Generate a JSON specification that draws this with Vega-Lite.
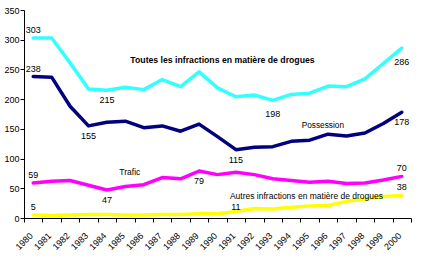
{
  "$schema": "https://vega.github.io/schema/vega-lite/v6.json",
  "width": 387,
  "height": 208,
  "autosize": {"type": "none"},
  "padding": {"left": 24, "top": 10, "right": 16, "bottom": 40},
  "background": "white",
  "config": {
    "view": {"stroke": null},
    "font": "Liberation Sans",
    "text": {"font": "Liberation Sans", "fontSize": 9, "color": "#000000"}
  },
  "datasets": {
    "drogues": [
      {"series": "Toutes", "year": 1980, "value": 303},
      {"series": "Toutes", "year": 1981, "value": 303},
      {"series": "Toutes", "year": 1982, "value": 261},
      {"series": "Toutes", "year": 1983, "value": 217},
      {"series": "Toutes", "year": 1984, "value": 215},
      {"series": "Toutes", "year": 1985, "value": 220},
      {"series": "Toutes", "year": 1986, "value": 216},
      {"series": "Toutes", "year": 1987, "value": 233},
      {"series": "Toutes", "year": 1988, "value": 221},
      {"series": "Toutes", "year": 1989, "value": 246},
      {"series": "Toutes", "year": 1990, "value": 219},
      {"series": "Toutes", "year": 1991, "value": 204},
      {"series": "Toutes", "year": 1992, "value": 207},
      {"series": "Toutes", "year": 1993, "value": 198},
      {"series": "Toutes", "year": 1994, "value": 208},
      {"series": "Toutes", "year": 1995, "value": 210},
      {"series": "Toutes", "year": 1996, "value": 222},
      {"series": "Toutes", "year": 1997, "value": 221},
      {"series": "Toutes", "year": 1998, "value": 234},
      {"series": "Toutes", "year": 1999, "value": 260},
      {"series": "Toutes", "year": 2000, "value": 286},
      {"series": "Possession", "year": 1980, "value": 238},
      {"series": "Possession", "year": 1981, "value": 237},
      {"series": "Possession", "year": 1982, "value": 188},
      {"series": "Possession", "year": 1983, "value": 155},
      {"series": "Possession", "year": 1984, "value": 161},
      {"series": "Possession", "year": 1985, "value": 163},
      {"series": "Possession", "year": 1986, "value": 152},
      {"series": "Possession", "year": 1987, "value": 155},
      {"series": "Possession", "year": 1988, "value": 146},
      {"series": "Possession", "year": 1989, "value": 158},
      {"series": "Possession", "year": 1990, "value": 137},
      {"series": "Possession", "year": 1991, "value": 115},
      {"series": "Possession", "year": 1992, "value": 119},
      {"series": "Possession", "year": 1993, "value": 120},
      {"series": "Possession", "year": 1994, "value": 129},
      {"series": "Possession", "year": 1995, "value": 131},
      {"series": "Possession", "year": 1996, "value": 141},
      {"series": "Possession", "year": 1997, "value": 138},
      {"series": "Possession", "year": 1998, "value": 143},
      {"series": "Possession", "year": 1999, "value": 159},
      {"series": "Possession", "year": 2000, "value": 178},
      {"series": "Trafic", "year": 1980, "value": 59},
      {"series": "Trafic", "year": 1981, "value": 62},
      {"series": "Trafic", "year": 1982, "value": 63},
      {"series": "Trafic", "year": 1983, "value": 55},
      {"series": "Trafic", "year": 1984, "value": 47},
      {"series": "Trafic", "year": 1985, "value": 53},
      {"series": "Trafic", "year": 1986, "value": 56},
      {"series": "Trafic", "year": 1987, "value": 68},
      {"series": "Trafic", "year": 1988, "value": 66},
      {"series": "Trafic", "year": 1989, "value": 79},
      {"series": "Trafic", "year": 1990, "value": 73},
      {"series": "Trafic", "year": 1991, "value": 77},
      {"series": "Trafic", "year": 1992, "value": 73},
      {"series": "Trafic", "year": 1993, "value": 66},
      {"series": "Trafic", "year": 1994, "value": 63},
      {"series": "Trafic", "year": 1995, "value": 60},
      {"series": "Trafic", "year": 1996, "value": 62},
      {"series": "Trafic", "year": 1997, "value": 58},
      {"series": "Trafic", "year": 1998, "value": 59},
      {"series": "Trafic", "year": 1999, "value": 64},
      {"series": "Trafic", "year": 2000, "value": 70},
      {"series": "Autres", "year": 1980, "value": 5},
      {"series": "Autres", "year": 1981, "value": 4},
      {"series": "Autres", "year": 1982, "value": 5},
      {"series": "Autres", "year": 1983, "value": 6},
      {"series": "Autres", "year": 1984, "value": 6},
      {"series": "Autres", "year": 1985, "value": 5},
      {"series": "Autres", "year": 1986, "value": 5},
      {"series": "Autres", "year": 1987, "value": 6},
      {"series": "Autres", "year": 1988, "value": 6},
      {"series": "Autres", "year": 1989, "value": 7},
      {"series": "Autres", "year": 1990, "value": 7},
      {"series": "Autres", "year": 1991, "value": 11},
      {"series": "Autres", "year": 1992, "value": 16},
      {"series": "Autres", "year": 1993, "value": 15},
      {"series": "Autres", "year": 1994, "value": 18},
      {"series": "Autres", "year": 1995, "value": 20},
      {"series": "Autres", "year": 1996, "value": 21},
      {"series": "Autres", "year": 1997, "value": 28},
      {"series": "Autres", "year": 1998, "value": 32},
      {"series": "Autres", "year": 1999, "value": 36},
      {"series": "Autres", "year": 2000, "value": 38}
    ],
    "etiquettes": [
      {"series": "Toutes", "year": 1985, "value": 266, "text": "Toutes les infractions en matière de drogues"},
      {"series": "Possession", "year": 1995, "value": 155, "text": "Possession"},
      {"series": "Trafic", "year": 1985, "value": 77, "text": "Trafic"},
      {"series": "Autres", "year": 1991, "value": 37, "text": "Autres infractions en matière de drogues"}
    ]
  },
  "data": {"name": "drogues"},
  "encoding": {
    "x": {
      "field": "year", "type": "quantitative",
      "scale": {"domain": [1979.5, 2000.5], "nice": false, "zero": false},
      "axis": {
        "title": null, "grid": false,
        "values": [1979.5,1980.5,1981.5,1982.5,1983.5,1984.5,1985.5,1986.5,1987.5,1988.5,1989.5,1990.5,1991.5,1992.5,1993.5,1994.5,1995.5,1996.5,1997.5,1998.5,1999.5,2000.5],
        "labelExpr": "datum.value > 2000 ? '' : format(datum.value + 0.5, 'd')",
        "labelAngle": -45, "labelFontSize": 9, "labelFont": "Liberation Sans", "labelColor": "#000000",
        "labelPadding": 9, "labelOffset": 4, "labelOverlap": false, "labelBound": false, "labelFlush": false,
        "tickSize": 4, "tickColor": "#000000", "domainColor": "#000000", "domainWidth": 1, "tickWidth": 1
      }
    },
    "y": {
      "field": "value", "type": "quantitative",
      "scale": {"domain": [0, 350], "nice": false},
      "axis": {
        "title": null, "grid": false,
        "values": [0, 50, 100, 150, 200, 250, 300, 350],
        "labelFontSize": 9, "labelFont": "Liberation Sans", "labelColor": "#000000",
        "labelPadding": 1, "tickSize": 4, "tickColor": "#000000", "domainColor": "#000000",
        "labelFlush": false, "labelBound": false
      }
    }
  },
  "layer": [
    {
      "mark": {"type": "line", "strokeWidth": 3.5, "strokeJoin": "round", "strokeCap": "round"},
      "encoding": {
        "color": {
          "field": "series", "type": "nominal",
          "scale": {"domain": ["Toutes", "Possession", "Trafic", "Autres"], "range": ["#33ffff", "#000080", "#ff00ff", "#ffff00"]},
          "legend": null
        }
      }
    },
    {
      "transform": [{"filter": "(datum.year == 1980) || (datum.series == 'Trafic' && datum.year == 2000) || (datum.series == 'Autres' && datum.year == 2000)"}],
      "mark": {"type": "text", "baseline": "middle", "align": "center", "dy": -8},
      "encoding": {"text": {"field": "value", "type": "quantitative", "format": "d"}}
    },
    {
      "transform": [{"filter": "datum.series == 'Autres' && datum.year == 1991"}],
      "mark": {"type": "text", "baseline": "middle", "align": "center", "dy": -4},
      "encoding": {"text": {"field": "value", "type": "quantitative", "format": "d"}}
    },
    {
      "transform": [{"filter": "(datum.series == 'Toutes' && datum.year == 1984) || (datum.series == 'Possession' && (datum.year == 1983 || datum.year == 1991 || datum.year == 2000)) || (datum.series == 'Trafic' && (datum.year == 1984 || datum.year == 1989))"}],
      "mark": {"type": "text", "baseline": "middle", "align": "center", "dy": 10},
      "encoding": {"text": {"field": "value", "type": "quantitative", "format": "d"}}
    },
    {
      "transform": [{"filter": "datum.series == 'Toutes' && (datum.year == 1993 || datum.year == 2000)"}],
      "mark": {"type": "text", "baseline": "middle", "align": "center", "dy": 14},
      "encoding": {"text": {"field": "value", "type": "quantitative", "format": "d"}}
    },
    {
      "data": {"name": "etiquettes"},
      "transform": [{"filter": "datum.series == 'Toutes'"}],
      "mark": {"type": "text", "baseline": "middle", "align": "left", "dx": 5, "fontWeight": "bold", "fontSize": 8.7},
      "encoding": {"text": {"field": "text"}}
    },
    {
      "data": {"name": "etiquettes"},
      "transform": [{"filter": "datum.series == 'Possession'"}],
      "mark": {"type": "text", "baseline": "middle", "align": "left", "dx": -8, "fontSize": 8.3},
      "encoding": {"text": {"field": "text"}}
    },
    {
      "data": {"name": "etiquettes"},
      "transform": [{"filter": "datum.series == 'Trafic'"}],
      "mark": {"type": "text", "baseline": "middle", "align": "left", "dx": -6, "fontSize": 8.5},
      "encoding": {"text": {"field": "text"}}
    },
    {
      "data": {"name": "etiquettes"},
      "transform": [{"filter": "datum.series == 'Autres'"}],
      "mark": {"type": "text", "baseline": "middle", "align": "left", "dx": -6, "fontSize": 8.5},
      "encoding": {"text": {"field": "text"}}
    }
  ]
}
